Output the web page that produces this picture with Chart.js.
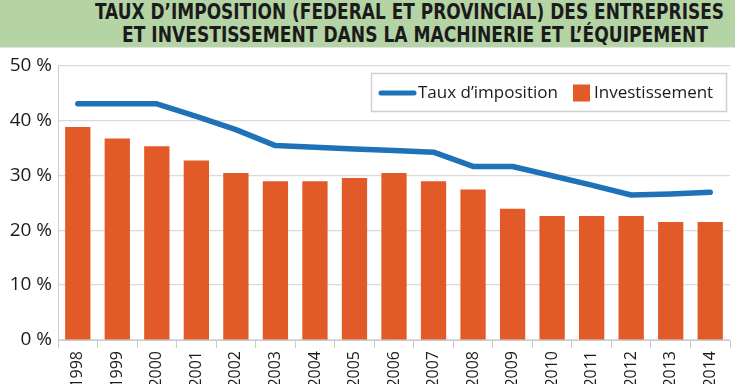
<!DOCTYPE html>
<html>
<head>
<meta charset="utf-8">
<script src="https://cdn.jsdelivr.net/npm/chart.js@4.4.0/dist/chart.umd.min.js"></script>
<style>
  html, body { margin: 0; padding: 0; background: #ffffff; width: 735px; height: 384px; overflow: hidden; }
  #title {
    position: absolute; left: 0; top: 0; width: 735px; height: 48px;
    background: #b5d4a6; border-bottom: 1px solid #e4e4e4; box-sizing: border-box;
  }
  .tl {
    position: absolute; white-space: nowrap;
    font-family: "Liberation Sans Narrow", "DejaVu Sans Condensed", sans-serif;
    font-weight: bold; font-size: 22px; line-height: 22px; color: #1b1b1b;
    transform-origin: 0 0;
  }
  #wrap { position: absolute; left: 0; top: 48px; width: 735px; height: 336px; }
</style>
</head>
<body>
<div id="title">
  <span class="tl" id="t1">TAUX D’IMPOSITION (FEDERAL ET PROVINCIAL) DES ENTREPRISES</span>
  <span class="tl" id="t2">ET INVESTISSEMENT DANS LA MACHINERIE ET L’ÉQUIPEMENT</span>
</div>
<div id="wrap"><canvas id="c" width="735" height="336"></canvas></div>
<script>
// ---- data ----
const years = ["1998","1999","2000","2001","2002","2003","2004","2005","2006","2007","2008","2009","2010","2011","2012","2013","2014"];
const tauxImposition = [43.0, 43.0, 43.0, 40.7, 38.3, 35.4, 35.1, 34.8, 34.5, 34.2, 31.6, 31.6, 29.9, 28.2, 26.4, 26.6, 26.9];
const investissement = [38.8, 36.7, 35.3, 32.7, 30.4, 28.9, 28.9, 29.5, 30.4, 28.9, 27.4, 23.9, 22.6, 22.6, 22.6, 21.5, 21.5];
const yTicks = [0, 10, 20, 30, 40, 50];
const seriesNames = ["Taux d’imposition", "Investissement"];

// ---- title fitting ----
function fitLine(id, left, right, top) {
  const el = document.getElementById(id);
  const w = el.getBoundingClientRect().width;
  const s = (right - left) / w;
  el.style.left = left + "px";
  el.style.top = top + "px";
  el.style.transform = "scaleX(" + s + ")";
}
fitLine("t1", 95, 724, 1);
fitLine("t2", 122, 708, 24);

const BLUE = "#1f72b8";
const ORANGE = "#e25a27";

const legendPlugin = {
  id: "boxLegend",
  afterDraw(chart) {
    const ctx = chart.ctx;
    const x0 = 371, y0 = 73 - 48, w = 355, h = 38;
    ctx.save();
    ctx.fillStyle = "#ffffff";
    ctx.fillRect(x0, y0, w, h);
    ctx.strokeStyle = "#cfcfcf";
    ctx.lineWidth = 1.5;
    ctx.strokeRect(x0 + 0.5, y0 + 0.5, w, h);
    const cy = y0 + h / 2 + 1;
    ctx.strokeStyle = BLUE;
    ctx.lineWidth = 5;
    ctx.lineCap = "round";
    ctx.beginPath();
    ctx.moveTo(381, cy);
    ctx.lineTo(414, cy);
    ctx.stroke();
    ctx.font = "17px 'Open Sans', sans-serif";
    ctx.fillStyle = "#1b1b1b";
    ctx.textBaseline = "middle";
    ctx.fillText(seriesNames[0], 418, cy);
    ctx.fillStyle = ORANGE;
    ctx.fillRect(573, cy - 8.5, 17, 17);
    ctx.fillStyle = "#1b1b1b";
    ctx.fillText(seriesNames[1], 594, cy);
    ctx.restore();
  }
};

new Chart(document.getElementById("c"), {
  data: {
    labels: years,
    datasets: [
      {
        type: "line", label: seriesNames[0], data: tauxImposition,
        borderColor: BLUE, backgroundColor: BLUE, borderWidth: 5.5,
        pointRadius: 0, tension: 0, borderCapStyle: "round", borderJoinStyle: "round"
      },
      {
        type: "bar", label: seriesNames[1], data: investissement,
        backgroundColor: ORANGE, borderWidth: 0,
        categoryPercentage: 1.0, barPercentage: 0.64
      }
    ]
  },
  plugins: [legendPlugin],
  options: {
    responsive: false, animation: false, devicePixelRatio: 1,
    layout: { padding: { top: 17, right: 5, left: 0, bottom: 0 } },
    plugins: { legend: { display: false }, tooltip: { enabled: false }, title: { display: false } },
    scales: {
      x: {
        grid: { offset: true, drawOnChartArea: false, drawTicks: true, tickLength: 8, color: "#cccccc" },
        border: { color: "#cccccc" },
        ticks: { minRotation: 90, maxRotation: 90, autoSkip: false, padding: 3,
                 color: "#1b1b1b", font: { family: "'Open Sans', sans-serif", size: 16 } },
        afterFit(scale) { scale.height = 44; }
      },
      y: {
        min: 0, max: 50,
        afterBuildTicks(scale) { scale.ticks = yTicks.map(v => ({ value: v })); },
        grid: { color: "#dadada", drawTicks: false, lineWidth: 1.2 },
        border: { color: "#cccccc" },
        ticks: { padding: 6, color: "#1b1b1b", font: { family: "'Open Sans', sans-serif", size: 19 },
                 callback: v => v + " %" },
        afterFit(scale) { scale.width = 58; }
      }
    }
  }
});
</script>
</body>
</html>
